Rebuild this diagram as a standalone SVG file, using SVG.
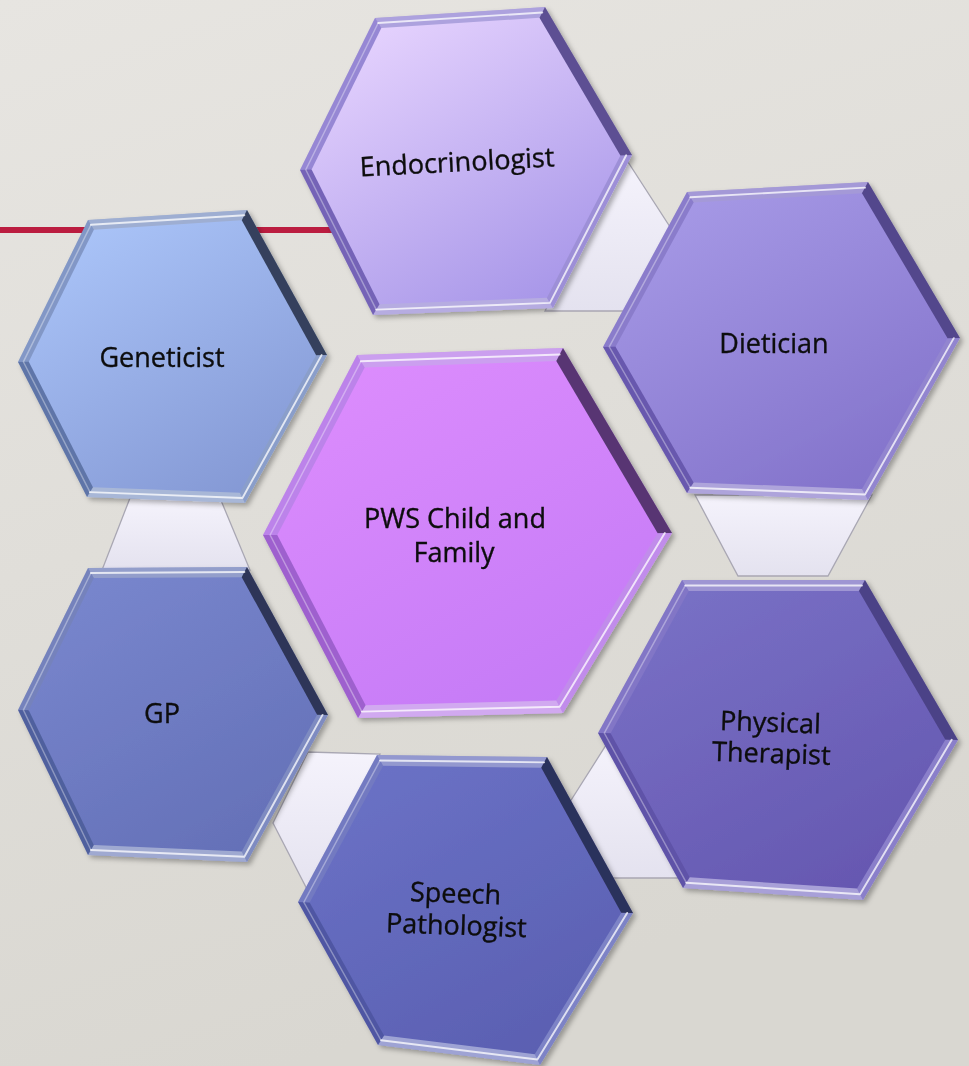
<svg xmlns="http://www.w3.org/2000/svg" width="969" height="1066" viewBox="0 0 969 1066">
  <defs>
    <linearGradient id="bg" x1="0" y1="0" x2="0.3" y2="1">
      <stop offset="0" stop-color="#e7e5e1"/>
      <stop offset="1" stop-color="#d9d7d1"/>
    </linearGradient>
    <linearGradient id="link" x1="0" y1="0" x2="0" y2="1">
      <stop offset="0" stop-color="#f5f3fc"/>
      <stop offset="1" stop-color="#e4e2ef"/>
    </linearGradient>
    <linearGradient id="gEndo" x1="0.2" y1="0" x2="0.8" y2="1">
      <stop offset="0" stop-color="#e6d3fe"/>
      <stop offset="1" stop-color="#a695e8"/>
    </linearGradient>
    <linearGradient id="gGen" x1="0.2" y1="0" x2="0.8" y2="1">
      <stop offset="0" stop-color="#aac4f8"/>
      <stop offset="1" stop-color="#8498d4"/>
    </linearGradient>
    <linearGradient id="gDiet" x1="0.2" y1="0" x2="0.8" y2="1">
      <stop offset="0" stop-color="#a699e6"/>
      <stop offset="1" stop-color="#8272ca"/>
    </linearGradient>
    <linearGradient id="gPws" x1="0.2" y1="0" x2="0.8" y2="1">
      <stop offset="0" stop-color="#dc8cfd"/>
      <stop offset="1" stop-color="#c47af6"/>
    </linearGradient>
    <linearGradient id="gGp" x1="0.2" y1="0" x2="0.8" y2="1">
      <stop offset="0" stop-color="#7886cd"/>
      <stop offset="1" stop-color="#6470b7"/>
    </linearGradient>
    <linearGradient id="gSpeech" x1="0.2" y1="0" x2="0.8" y2="1">
      <stop offset="0" stop-color="#6a71c5"/>
      <stop offset="1" stop-color="#5a5fb1"/>
    </linearGradient>
    <linearGradient id="gPhys" x1="0.2" y1="0" x2="0.8" y2="1">
      <stop offset="0" stop-color="#7870c5"/>
      <stop offset="1" stop-color="#6557b0"/>
    </linearGradient>
    <filter id="shadow" x="-10%" y="-10%" width="125%" height="125%">
      <feDropShadow dx="3" dy="3" stdDeviation="2.5" flood-color="#000" flood-opacity="0.3"/>
    </filter>
  </defs>
  <style>
    .lbl { font-family: "Open Sans", "Liberation Sans", sans-serif; font-size: 27px; fill: #0c0c0c; text-anchor: middle; stroke: #0c0c0c; stroke-width: 0.35; }
    .s-t  { fill: #fff; fill-opacity: .35; }
    .s-tr { fill: #000; fill-opacity: .5; }
    .soft .s-tr { fill-opacity: .28; }
    .s-br { fill: #fff; fill-opacity: .22; }
    .s-b  { fill: #fff; fill-opacity: .42; }
    .s-bl { fill: #000; fill-opacity: .1; }
    .s-tl { fill: #fff; fill-opacity: .16; }
    .ridge { fill: none; stroke: #fff; stroke-opacity: .75; stroke-width: 2; stroke-linecap: round; stroke-linejoin: round; }
    .ridge-soft { fill: none; stroke: #fff; stroke-opacity: .35; stroke-width: 1.5; stroke-linecap: round; }
    .node { filter: url(#shadow); }
    .link { fill: url(#link); stroke: #a9a7b3; stroke-width: 1.3; }
  </style>

  <!-- backdrop -->
  <rect width="969" height="1066" fill="url(#bg)"/>
  <rect x="0" y="227" width="345" height="6" fill="#bb1d40"/>

  <!-- connectors between outer hexagons -->
  <g id="connectors">
    <polygon class="link" points="622,160 628,162 672,230 628,311 545,311"/>
    <polygon class="link" points="695,495 872,495 828,576 738,576"/>
    <polygon class="link" points="640,740 608,742 568,805 600,878 690,878"/>
    <polygon class="link" points="308,752 380,754 310,895 273,823"/>
    <polygon class="link" points="130,498 220,498 250,570 102,570"/>
  </g>

  <!-- Endocrinologist -->
  <g id="node-endocrinologist" class="node soft" transform="translate(466,162)">
    <polygon fill="#8270cc" points="-166,8 -91,-144 79,-155 166,-7 87,146 -93,153"/>
    <polygon class="s-tl" points="0,0 -166,8 -91,-144"/>
    <polygon class="s-t" points="0,0 -91,-144 79,-155"/>
    <polygon class="s-tr" points="0,0 79,-155 166,-7"/>
    <polygon class="s-br" points="0,0 166,-7 87,146"/>
    <polygon class="s-b" points="0,0 87,146 -93,153"/>
    <polygon class="s-bl" points="0,0 -93,153 -166,8"/>
    <polygon fill="url(#gEndo)" transform="scale(0.93)" points="-166,8 -91,-144 79,-155 166,-7 87,146 -93,153"/>
    <g transform="scale(0.965)">
      <polyline class="ridge" points="-91,-144 79,-155"/>
      <polyline class="ridge" points="166,-7 87,146 -93,153"/>
      <polyline class="ridge-soft" points="-93,153 -166,8 -91,-144"/>
    </g>
    <text class="lbl" x="-9" y="9" transform="rotate(-3)">Endocrinologist</text>
  </g>

  <!-- Geneticist -->
  <g id="node-geneticist" class="node" transform="translate(172,358)">
    <polygon fill="#6a83bb" points="-154,4 -84,-138 75,-148 155,-3 73,145 -85,139"/>
    <polygon class="s-tl" points="0,0 -154,4 -84,-138"/>
    <polygon class="s-t" points="0,0 -84,-138 75,-148"/>
    <polygon class="s-tr" points="0,0 75,-148 155,-3"/>
    <polygon class="s-br" points="0,0 155,-3 73,145"/>
    <polygon class="s-b" points="0,0 73,145 -85,139"/>
    <polygon class="s-bl" points="0,0 -85,139 -154,4"/>
    <polygon fill="url(#gGen)" transform="scale(0.93)" points="-154,4 -84,-138 75,-148 155,-3 73,145 -85,139"/>
    <g transform="scale(0.965)">
      <polyline class="ridge" points="-84,-138 75,-148"/>
      <polyline class="ridge" points="155,-3 73,145 -85,139"/>
      <polyline class="ridge-soft" points="-85,139 -154,4 -84,-138"/>
    </g>
    <text class="lbl" x="-10" y="9" font-size="26">Geneticist</text>
  </g>

  <!-- Dietician -->
  <g id="node-dietician" class="node soft" transform="translate(782,342)">
    <polygon fill="#7463c2" points="-179,5 -95,-150 86,-160 178,-4 86,158 -95,151"/>
    <polygon class="s-tl" points="0,0 -179,5 -95,-150"/>
    <polygon class="s-t" points="0,0 -95,-150 86,-160"/>
    <polygon class="s-tr" points="0,0 86,-160 178,-4"/>
    <polygon class="s-br" points="0,0 178,-4 86,158"/>
    <polygon class="s-b" points="0,0 86,158 -95,151"/>
    <polygon class="s-bl" points="0,0 -95,151 -179,5"/>
    <polygon fill="url(#gDiet)" transform="scale(0.93)" points="-179,5 -95,-150 86,-160 178,-4 86,158 -95,151"/>
    <g transform="scale(0.965)">
      <polyline class="ridge" points="-95,-150 86,-160"/>
      <polyline class="ridge" points="178,-4 86,158 -95,151"/>
      <polyline class="ridge-soft" points="-95,151 -179,5 -95,-150"/>
    </g>
    <text class="lbl" x="-8" y="11" font-size="31">Dietician</text>
  </g>

  <!-- Physical Therapist -->
  <g id="node-physical-therapist" class="node soft" transform="translate(778,736)">
    <polygon fill="#6a5cbc" points="-180,-3 -96,-156 87,-156 180,4 85,164 -95,152"/>
    <polygon class="s-tl" points="0,0 -180,-3 -96,-156"/>
    <polygon class="s-t" points="0,0 -96,-156 87,-156"/>
    <polygon class="s-tr" points="0,0 87,-156 180,4"/>
    <polygon class="s-br" points="0,0 180,4 85,164"/>
    <polygon class="s-b" points="0,0 85,164 -95,152"/>
    <polygon class="s-bl" points="0,0 -95,152 -180,-3"/>
    <polygon fill="url(#gPhys)" transform="scale(0.93)" points="-180,-3 -96,-156 87,-156 180,4 85,164 -95,152"/>
    <g transform="scale(0.965)">
      <polyline class="ridge" points="-96,-156 87,-156"/>
      <polyline class="ridge" points="180,4 85,164 -95,152"/>
      <polyline class="ridge-soft" points="-95,152 -180,-3 -96,-156"/>
    </g>
    <g transform="rotate(2)">
      <text class="lbl" x="-8" y="-4" font-size="28">Physical</text>
      <text class="lbl" x="-6" y="27" font-size="29">Therapist</text>
    </g>
  </g>

  <!-- Speech Pathologist -->
  <g id="node-speech-pathologist" class="node" transform="translate(465,910)">
    <polygon fill="#5961b6" points="-167,-8 -88,-155 82,-153 168,3 75,155 -87,135"/>
    <polygon class="s-tl" points="0,0 -167,-8 -88,-155"/>
    <polygon class="s-t" points="0,0 -88,-155 82,-153"/>
    <polygon class="s-tr" points="0,0 82,-153 168,3"/>
    <polygon class="s-br" points="0,0 168,3 75,155"/>
    <polygon class="s-b" points="0,0 75,155 -87,135"/>
    <polygon class="s-bl" points="0,0 -87,135 -167,-8"/>
    <polygon fill="url(#gSpeech)" transform="scale(0.93)" points="-167,-8 -88,-155 82,-153 168,3 75,155 -87,135"/>
    <g transform="scale(0.965)">
      <polyline class="ridge" points="-88,-155 82,-153"/>
      <polyline class="ridge" points="168,3 75,155 -87,135"/>
      <polyline class="ridge-soft" points="-87,135 -167,-8 -88,-155"/>
    </g>
    <g transform="rotate(2)">
      <text class="lbl" x="-10" y="-7">Speech</text>
      <text class="lbl" x="-8" y="25">Pathologist</text>
    </g>
  </g>

  <!-- GP -->
  <g id="node-gp" class="node" transform="translate(172,712)">
    <polygon fill="#5a6bb0" points="-154,-2 -84,-144 75,-145 156,3 75,150 -84,143"/>
    <polygon class="s-tl" points="0,0 -154,-2 -84,-144"/>
    <polygon class="s-t" points="0,0 -84,-144 75,-145"/>
    <polygon class="s-tr" points="0,0 75,-145 156,3"/>
    <polygon class="s-br" points="0,0 156,3 75,150"/>
    <polygon class="s-b" points="0,0 75,150 -84,143"/>
    <polygon class="s-bl" points="0,0 -84,143 -154,-2"/>
    <polygon fill="url(#gGp)" transform="scale(0.93)" points="-154,-2 -84,-144 75,-145 156,3 75,150 -84,143"/>
    <g transform="scale(0.965)">
      <polyline class="ridge" points="-84,-144 75,-145"/>
      <polyline class="ridge" points="156,3 75,150 -84,143"/>
      <polyline class="ridge-soft" points="-84,143 -154,-2 -84,-144"/>
    </g>
    <text class="lbl" x="-10" y="11" font-size="28">GP</text>
  </g>

  <!-- PWS Child and Family (centre) -->
  <g id="node-pws-child-family" class="node" transform="translate(467,535)">
    <polygon fill="#b06ce6" points="-204,0 -110,-180 96,-187 205,-2 96,178 -109,183"/>
    <polygon class="s-tl" points="0,0 -204,0 -110,-180"/>
    <polygon class="s-t" points="0,0 -110,-180 96,-187"/>
    <polygon class="s-tr" points="0,0 96,-187 205,-2" fill-opacity=".8"/>
    <polygon class="s-br" points="0,0 205,-2 96,178"/>
    <polygon class="s-b" points="0,0 96,178 -109,183"/>
    <polygon class="s-bl" points="0,0 -109,183 -204,0"/>
    <polygon fill="url(#gPws)" transform="scale(0.93)" points="-204,0 -110,-180 96,-187 205,-2 96,178 -109,183"/>
    <g transform="scale(0.965)">
      <polyline class="ridge" points="-110,-180 96,-187"/>
      <polyline class="ridge" points="205,-2 96,178 -109,183"/>
      <polyline class="ridge-soft" points="-109,183 -204,0 -110,-180"/>
    </g>
    <text class="lbl" x="-12" y="-7" font-size="29">PWS Child and</text>
    <text class="lbl" x="-13" y="27" font-size="29">Family</text>
  </g>
</svg>
